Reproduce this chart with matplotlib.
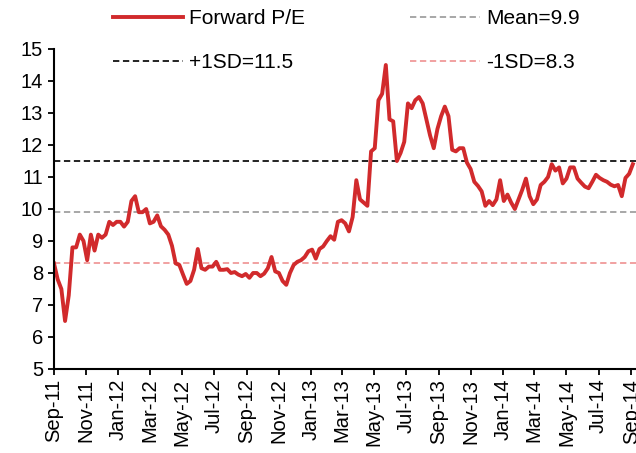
import matplotlib
matplotlib.use("Agg")
import matplotlib.pyplot as plt
import matplotlib.dates as mdates
from matplotlib.lines import Line2D
import pandas as pd

# weekly forward P/E readings, Sep-2011 .. Sep-2014
pe_values = [
    8.3, 7.8, 7.5, 6.5, 7.3, 8.8, 8.8, 9.2, 9.0, 8.4,
    9.2, 8.7, 9.2, 9.1, 9.2, 9.6, 9.5, 9.6, 9.6, 9.45,
    9.6, 10.25, 10.4, 9.9, 9.9, 10.0, 9.55, 9.6, 9.8, 9.46,
    9.35, 9.2, 8.85, 8.3, 8.25, 7.95, 7.66, 7.75, 8.1, 8.75,
    8.15, 8.1, 8.2, 8.2, 8.35, 8.1, 8.1, 8.12, 8.0, 8.03,
    7.95, 7.9, 7.97, 7.85, 8.0, 8.0, 7.9, 7.98, 8.15, 8.5,
    8.05, 8.0, 7.75, 7.63, 8.0, 8.25, 8.35, 8.4, 8.5, 8.68,
    8.73, 8.45, 8.75, 8.83, 9.0, 9.15, 9.04, 9.6, 9.65, 9.55,
    9.3, 9.75, 10.9, 10.3, 10.2, 10.1, 11.8, 11.9, 13.4, 13.6,
    14.5, 12.8, 12.74, 11.5, 11.75, 12.1, 13.3, 13.15, 13.4, 13.5,
    13.3, 12.8, 12.3, 11.9, 12.5, 12.9, 13.2, 12.9, 11.85, 11.8,
    11.9, 11.9, 11.45, 11.25, 10.85, 10.72, 10.55, 10.1, 10.25, 10.12,
    10.3, 10.9, 10.25, 10.45, 10.2, 10.0, 10.3, 10.6, 10.95, 10.4,
    10.15, 10.3, 10.75, 10.85, 11.0, 11.4, 11.2, 11.3, 10.8, 10.95,
    11.3, 11.3, 10.95, 10.82, 10.7, 10.65, 10.85, 11.07, 10.97, 10.9,
    10.85, 10.76, 10.71, 10.75, 10.4, 10.97, 11.1, 11.4,
]
pe_dates = pd.date_range("2011-09-01", periods=len(pe_values), freq="7D")

mean_pe = 9.9
plus_sd = 11.5
minus_sd = 8.3

red = "#d12a2c"
font = "Liberation Sans"
plt.rcParams["font.family"] = [font, "DejaVu Sans"]
plt.rcParams["font.size"] = 14.5

fig = plt.figure(figsize=(6.36, 4.53), dpi=100)
ax = fig.add_axes([54 / 636, 84 / 453, 1 - 54 / 636, 320 / 453])

dash = (0, (3.5, 2))
ax.axhline(mean_pe, color="#a0a0a0", lw=1.3, ls=dash)
ax.axhline(plus_sd, color="#111111", lw=1.3, ls=dash)
ax.axhline(minus_sd, color="#f09a9a", lw=1.3, ls=dash)
ax.plot(pe_dates, pe_values, color=red, lw=2.8, solid_joinstyle="round")

ax.set_ylim(5, 15)
ax.set_yticks(range(5, 16))
ax.set_xlim(pd.Timestamp("2011-09-01"), pd.Timestamp("2014-09-10"))
ax.xaxis.set_major_locator(mdates.MonthLocator(bymonth=[1, 3, 5, 7, 9, 11]))
ax.xaxis.set_major_formatter(mdates.DateFormatter("%b-%y"))
plt.setp(ax.get_xticklabels(), rotation=90, ha="center")

ax.spines["top"].set_visible(False)
ax.spines["right"].set_visible(False)
ax.spines["left"].set_linewidth(1.5)
ax.spines["bottom"].set_linewidth(1.5)
ax.tick_params(axis="both", direction="out", length=4, width=1.3, color="black")
ax.tick_params(axis="y", pad=4)
ax.tick_params(axis="x", pad=3)

handles = [
    Line2D([], [], color=red, lw=2.8),
    Line2D([], [], color="#111111", lw=1.3, ls=dash),
    Line2D([], [], color="#a0a0a0", lw=1.3, ls=dash),
    Line2D([], [], color="#f09a9a", lw=1.3, ls=dash),
]
labels = ["Forward P/E", "+1SD=11.5", "Mean=9.9", "-1SD=8.3"]
fig.legend(handles, labels, ncol=2, frameon=False, loc="upper left",
           bbox_to_anchor=(113 / 636, 1 - 9 / 453), borderpad=0, borderaxespad=0,
           fontsize=15, handlelength=3.35, handletextpad=0.3, columnspacing=5.05,
           labelspacing=1.2)

fig.savefig("out.png", dpi=100)
